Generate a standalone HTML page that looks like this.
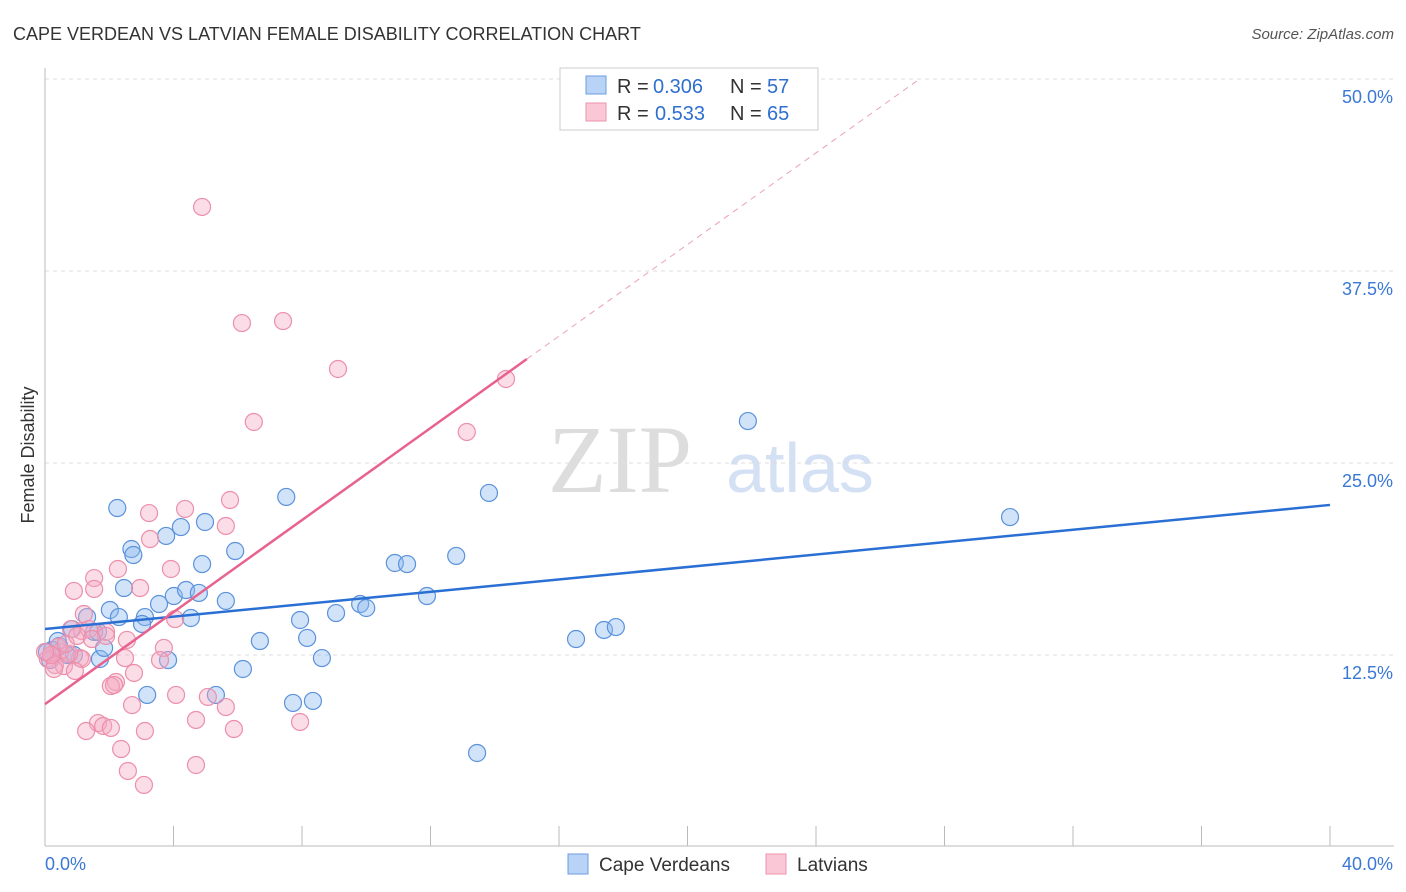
<!DOCTYPE html>
<html><head><meta charset="utf-8"><style>
body{margin:0;background:#fff;font-family:"Liberation Sans",sans-serif;}
svg{display:block}
</style></head><body>
<svg id="chart" width="1406" height="892" viewBox="0 0 1406 892">
<text x="13" y="40" font-size="18" fill="#333">CAPE VERDEAN VS LATVIAN FEMALE DISABILITY CORRELATION CHART</text>
<text x="1394" y="39" font-size="15" fill="#555" text-anchor="end" font-style="italic">Source: ZipAtlas.com</text>
<text x="620" y="492" font-size="96" fill="#ddd" font-family="Liberation Serif" text-anchor="middle">ZIP</text>
<text x="800" y="492" font-size="70" fill="#d4e0f3" text-anchor="middle">atlas</text>
<g id="grid"></g>
<g id="axes"></g>
<text transform="translate(34,455) rotate(-90)" font-size="18" fill="#333" text-anchor="middle">Female Disability</text>
<g id="pts"></g>
<g id="trend"></g>
<g>
<rect x="560" y="68" width="258" height="62" fill="#fff" stroke="#ccc"/>
<rect x="586" y="76" width="20" height="18" fill="#b8d3f5" stroke="#6b9de0"/>
<rect x="586" y="103" width="20" height="18" fill="#f9c7d5" stroke="#ec93ad"/>
<text y="93" font-size="20" fill="#333"><tspan x="617">R =</tspan><tspan x="653" fill="#2f6fd0">0.306</tspan><tspan x="730">N =</tspan><tspan x="767" fill="#2f6fd0">57</tspan></text>
<text y="120" font-size="20" fill="#333"><tspan x="617">R =</tspan><tspan x="655" fill="#2f6fd0">0.533</tspan><tspan x="730">N =</tspan><tspan x="767" fill="#2f6fd0">65</tspan></text>
</g>
<g>
<rect x="568" y="854" width="20" height="20" fill="#b8d3f5" stroke="#6b9de0"/>
<text x="599" y="871" font-size="19" fill="#333">Cape Verdeans</text>
<rect x="766" y="854" width="20" height="20" fill="#f9c7d5" stroke="#ec93ad"/>
<text x="797" y="871" font-size="19" fill="#333">Latvians</text>
</g>
</svg>
<script>
const yTicks=[12.5,25,37.5,50];
const yTickLabels=["12.5%","25.0%","37.5%","50.0%"];
const xTickLabels=["0.0%","40.0%"];
const blueX=[2.25,2.69,2.75,3.77,4.23,4.98,5.92,7.51,13.82,21.88,30.04,4.89,2.46,2.02,2.30,3.11,3.02,3.55,4.01,4.39,4.79,4.54,5.63,7.94,8.16,9.06,9.81,10.0,10.89,11.27,11.89,12.80,6.69,8.62,6.16,5.32,3.18,7.72,8.34,13.45,16.53,17.40,17.77,3.83,1.71,0.90,0.68,0.44,0.22,0.06,0.84,1.31,1.53,1.65,1.84,0.16,0.40];
const blueY=[22.07,19.40,19.01,20.25,20.83,21.16,19.27,22.79,23.05,27.73,21.48,18.42,16.86,15.43,14.97,14.97,14.52,15.82,16.34,16.73,16.54,14.91,16.02,14.78,13.61,15.23,15.82,15.56,18.49,18.42,16.34,18.95,13.41,12.30,11.59,9.90,9.90,9.38,9.51,6.12,13.54,14.13,14.32,12.17,12.24,12.50,12.50,13.09,12.83,12.70,14.19,14.97,14.00,14.00,12.96,12.17,13.41];
const pinkX=[4.89,6.13,7.41,9.12,14.35,6.50,13.13,5.76,5.63,4.36,3.24,3.27,2.27,3.92,2.96,1.53,1.53,0.90,1.21,4.05,1.90,2.55,0.81,1.15,1.37,1.90,3.70,3.58,2.49,1.09,1.15,0.47,0.22,0.09,0.31,0.59,0.93,0.28,2.77,2.21,2.05,2.15,4.08,5.07,5.63,4.70,7.94,2.71,5.88,1.65,1.81,1.28,2.05,3.11,2.37,2.58,3.08,4.70,0.75,0.40,0.65,0.19,0.0,1.00,1.46];
const pinkY=[41.67,34.11,34.24,31.12,30.47,27.67,27.02,22.59,20.90,22.01,21.74,20.05,18.10,18.10,16.86,17.51,16.80,16.67,15.17,14.84,14.00,13.48,14.19,14.06,14.19,13.74,12.96,12.17,12.30,12.30,12.24,12.70,12.50,12.24,11.85,11.78,11.46,11.59,11.33,10.74,10.48,10.55,9.90,9.77,9.11,8.27,8.14,9.24,7.68,8.07,7.88,7.55,7.75,7.55,6.38,4.95,4.04,5.34,12.57,13.02,13.22,12.50,12.70,13.74,13.54];
const X0=45,X1=1330,PX=(X1-X0)/40,Y0=847,PY=192/12.5;
const sx=v=>X0+v*PX, sy=v=>Y0-v*PY;
const NS="http://www.w3.org/2000/svg";
function mk(t,a,p){const e=document.createElementNS(NS,t);for(const k in a)e.setAttribute(k,a[k]);p.appendChild(e);return e;}
const grid=document.getElementById('grid'),axes=document.getElementById('axes');
yTicks.forEach((t,i)=>{
 const l=mk('line',{x1:45,x2:1394,y1:sy(t),y2:sy(t),stroke:'#ddd','stroke-dasharray':'4,4'},grid);
 
 
 const tx=mk('text',{x:1393,y:sy(t)+24,'font-size':18,fill:'#3a78d6','text-anchor':'end'},axes);
 tx.textContent=yTickLabels[i];
 
 
});
const ax=mk('line',{x1:45,x2:45,y1:68,y2:846,stroke:'#bbb'},axes);


const bx=mk('line',{x1:45,x2:1394,y1:846,y2:846,stroke:'#bbb'},axes);


for(let i=1;i<=10;i++){const t=mk('line',{x1:sx(i*4),x2:sx(i*4),y1:826,y2:846,stroke:'#bbb'},axes);
 
 }
[[0,'start',45],[40,'end',1393]].forEach((d,i)=>{const t=mk('text',{x:d[2],y:870,'font-size':18,fill:'#3a78d6','text-anchor':d[1]},axes);t.textContent=xTickLabels[i];
 
 });
const pts=document.getElementById('pts');
blueX.forEach((x,i)=>{const c=mk('circle',{cx:sx(x),cy:sy(blueY[i]),r:8.5,fill:'rgba(140,185,240,0.4)',stroke:'#5b92db','stroke-width':1.2},pts);
 
 });
pinkX.forEach((x,i)=>{const c=mk('circle',{cx:sx(x),cy:sy(pinkY[i]),r:8.5,fill:'rgba(246,170,195,0.4)',stroke:'#ec8fab','stroke-width':1.2},pts);
 
 });
const tr=document.getElementById('trend');
const b=mk('line',{x1:sx(0),y1:sy(14.19),x2:sx(40),y2:sy(22.27),stroke:'#2a6fd4','stroke-width':2.5},tr);


const p=mk('line',{x1:sx(0),y1:sy(9.3),x2:sx(15.0),y2:sy(31.77),stroke:'#e8628f','stroke-width':2.5},tr);


const pd=mk('line',{x1:sx(15.0),y1:sy(31.77),x2:sx(27.14),y2:sy(49.87),stroke:'#eaa0b8','stroke-width':1,'stroke-dasharray':'6,5'},tr);


</script>
</body></html>
